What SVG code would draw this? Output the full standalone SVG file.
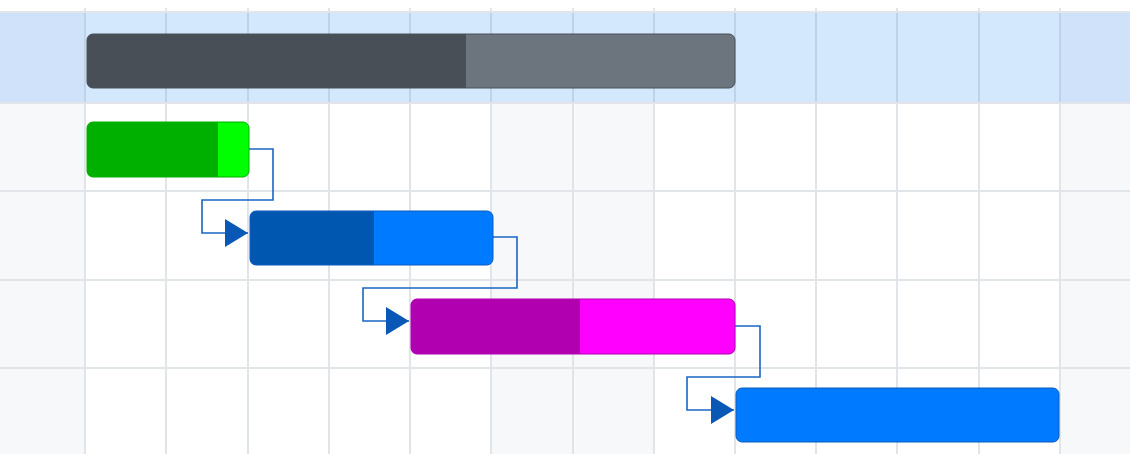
<svg xmlns="http://www.w3.org/2000/svg" width="1130" height="454" viewBox="0 0 1130 454">
<defs>
<style>
.vl{stroke:#e1e4e8;stroke-width:2}
.vlh{stroke:#bfd3e8;stroke-width:2}
.hl{stroke:#e1e4e8;stroke-width:2}
.conn{fill:none;stroke:#1a66c2;stroke-width:1.6}
.bar{stroke-width:1}
</style>
<marker id="arr" markerWidth="24" markerHeight="28" refX="23" refY="14" orient="auto" markerUnits="userSpaceOnUse">
<path d="M0,0 L23,14 L0,28 Z" fill="#0a58b5"/>
</marker>
<clipPath id="cs"><rect x="87" y="34" width="648" height="54" rx="6"/></clipPath>
<clipPath id="c1"><rect x="87" y="122" width="162" height="55" rx="6"/></clipPath>
<clipPath id="c2"><rect x="250" y="211" width="243" height="54" rx="6"/></clipPath>
<clipPath id="c3"><rect x="411" y="299" width="324" height="55" rx="6"/></clipPath>
</defs>
<g id="background">
<rect x="0" y="0" width="1130" height="454" fill="#ffffff"/>
<rect x="0" y="12" width="1130" height="91" fill="#d4e8fd"/>
<rect x="0" y="12" width="85" height="91" fill="#cfe2f9"/>
<rect x="1060" y="12" width="70" height="91" fill="#cfe2f9"/>
<rect x="0" y="103" width="85" height="351" fill="#f7f8fa"/>
<rect x="1060" y="103" width="70" height="351" fill="#f7f8fa"/>
<rect x="491" y="103" width="163" height="351" fill="#f7f8fa"/>
</g>
<g id="grid">
<line class="hl" x1="0" y1="12" x2="1130" y2="12"/>
<line class="hl" x1="0" y1="103" x2="1130" y2="103"/>
<line class="hl" x1="0" y1="191" x2="1130" y2="191"/>
<line class="hl" x1="0" y1="280" x2="1130" y2="280"/>
<line class="hl" x1="0" y1="368" x2="1130" y2="368"/>
<g>
<line class="vl" x1="85" y1="8" x2="85" y2="454"/>
<line class="vl" x1="166" y1="8" x2="166" y2="454"/>
<line class="vl" x1="248" y1="8" x2="248" y2="454"/>
<line class="vl" x1="329" y1="8" x2="329" y2="454"/>
<line class="vl" x1="410" y1="8" x2="410" y2="454"/>
<line class="vl" x1="491" y1="8" x2="491" y2="454"/>
<line class="vl" x1="573" y1="8" x2="573" y2="454"/>
<line class="vl" x1="654" y1="8" x2="654" y2="454"/>
<line class="vl" x1="735" y1="8" x2="735" y2="454"/>
<line class="vl" x1="816" y1="8" x2="816" y2="454"/>
<line class="vl" x1="897" y1="8" x2="897" y2="454"/>
<line class="vl" x1="979" y1="8" x2="979" y2="454"/>
<line class="vl" x1="1060" y1="8" x2="1060" y2="454"/>
</g>
<g>
<line class="vlh" x1="85" y1="13" x2="85" y2="102"/>
<line class="vlh" x1="166" y1="13" x2="166" y2="102"/>
<line class="vlh" x1="248" y1="13" x2="248" y2="102"/>
<line class="vlh" x1="329" y1="13" x2="329" y2="102"/>
<line class="vlh" x1="410" y1="13" x2="410" y2="102"/>
<line class="vlh" x1="491" y1="13" x2="491" y2="102"/>
<line class="vlh" x1="573" y1="13" x2="573" y2="102"/>
<line class="vlh" x1="654" y1="13" x2="654" y2="102"/>
<line class="vlh" x1="735" y1="13" x2="735" y2="102"/>
<line class="vlh" x1="816" y1="13" x2="816" y2="102"/>
<line class="vlh" x1="897" y1="13" x2="897" y2="102"/>
<line class="vlh" x1="979" y1="13" x2="979" y2="102"/>
<line class="vlh" x1="1060" y1="13" x2="1060" y2="102"/>
</g>
</g>
<g id="connectors">
<path class="conn" d="M249,149 H273 V200 H202 V233 H248" marker-end="url(#arr)"/>
<path class="conn" d="M493,237 H517 V288 H363 V321 H409" marker-end="url(#arr)"/>
<path class="conn" d="M735,326 H760 V377 H687 V410 H734" marker-end="url(#arr)"/>
</g>
<g id="summary">
<g clip-path="url(#cs)">
<rect x="87" y="34" width="648" height="54" fill="#6c757d"/>
<rect x="87" y="34" width="379" height="54" fill="#484f57"/>
</g>
<rect x="87" y="34" width="648" height="54" rx="6" fill="none" stroke="#4a5159" class="bar"/>
</g>
<g id="task1">
<g clip-path="url(#c1)">
<rect x="87" y="122" width="162" height="55" fill="#00ff00"/>
<rect x="87" y="122" width="131" height="55" fill="#00b000"/>
</g>
<rect x="87" y="122" width="162" height="55" rx="6" fill="none" stroke="#00b000" class="bar"/>
</g>
<g id="task2">
<g clip-path="url(#c2)">
<rect x="250" y="211" width="243" height="54" fill="#007bff"/>
<rect x="250" y="211" width="124" height="54" fill="#0057b0"/>
</g>
<rect x="250" y="211" width="243" height="54" rx="6" fill="none" stroke="#0a5cbf" class="bar"/>
</g>
<g id="task3">
<g clip-path="url(#c3)">
<rect x="411" y="299" width="324" height="55" fill="#ff00ff"/>
<rect x="411" y="299" width="169" height="55" fill="#b000b0"/>
</g>
<rect x="411" y="299" width="324" height="55" rx="6" fill="none" stroke="#b000b0" class="bar"/>
</g>
<g id="task4">
<rect x="736" y="388" width="323" height="54" rx="6" fill="#007bff" stroke="#0a5cbf" class="bar"/>
</g>
</svg>
